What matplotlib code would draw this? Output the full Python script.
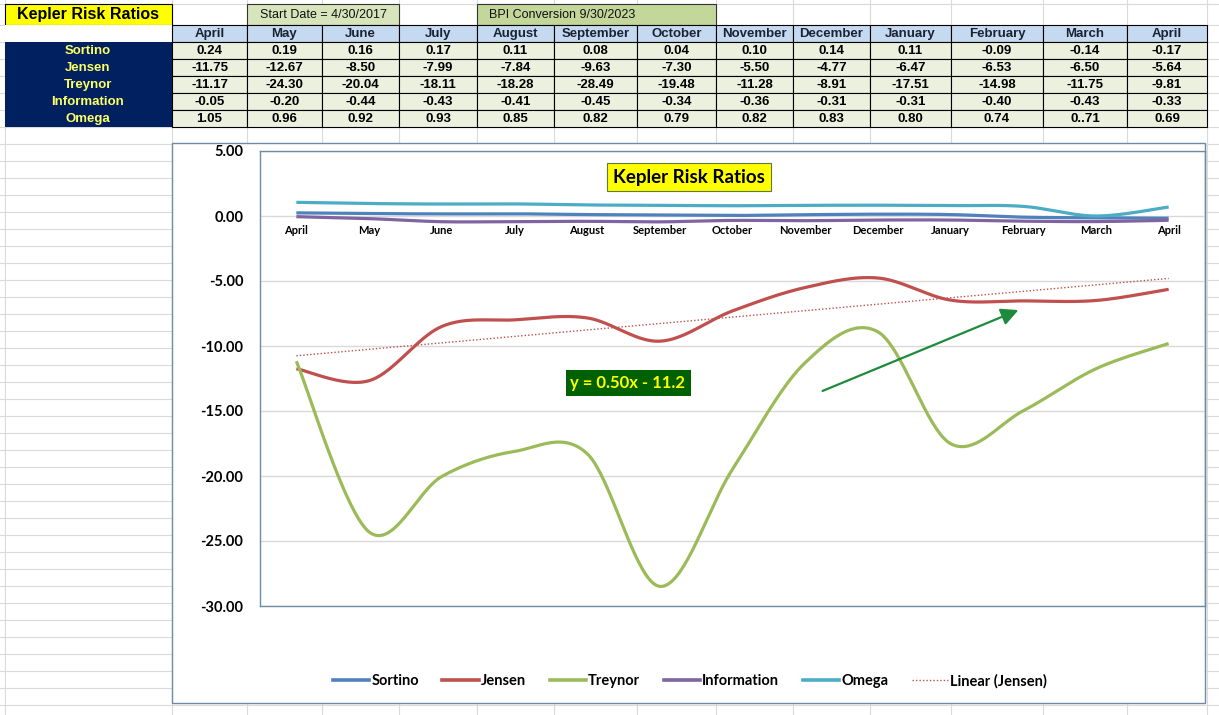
import numpy as np
import matplotlib
matplotlib.use("Agg")
import matplotlib.pyplot as plt
from matplotlib.patches import Rectangle, FancyArrowPatch
from matplotlib.lines import Line2D

# ---------------- data ----------------
months = ["April", "May", "June", "July", "August", "September", "October",
          "November", "December", "January", "February", "March", "April"]
sortino = [0.24, 0.19, 0.16, 0.17, 0.11, 0.08, 0.04, 0.10, 0.14, 0.11, -0.09, -0.14, -0.17]
jensen = [-11.75, -12.67, -8.50, -7.99, -7.84, -9.63, -7.30, -5.50, -4.77, -6.47, -6.53, -6.50, -5.64]
treynor = [-11.17, -24.30, -20.04, -18.11, -18.28, -28.49, -19.48, -11.28, -8.91, -17.51, -14.98, -11.75, -9.81]
information = [-0.05, -0.20, -0.44, -0.43, -0.41, -0.45, -0.34, -0.36, -0.31, -0.31, -0.40, -0.43, -0.33]
# Omega cells as typed in the sheet ("0..71" is text, which the chart plots as 0)
omega_cells = ["1.05", "0.96", "0.92", "0.93", "0.85", "0.82", "0.79",
               "0.82", "0.83", "0.80", "0.74", "0..71", "0.69"]
row_labels = ["Sortino", "Jensen", "Treynor", "Information", "Omega"]
yticks = [5, 0, -5, -10, -15, -20, -25, -30]


def cell_value(s):
    try:
        return float(s)
    except ValueError:
        return 0.0


omega = [cell_value(s) for s in omega_cells]

# ---------------- figure / sheet ----------------
W, H = 1219, 715
fig = plt.figure(figsize=(W / 100, H / 100), dpi=100)
bg = fig.add_axes([0, 0, 1, 1])
bg.set_xlim(0, W)
bg.set_ylim(H, 0)
bg.axis("off")

TFONT = ["Liberation Sans", "DejaVu Sans"]
CFONT = ["Lato", "DejaVu Sans"]
grid_c = "#dadada"

col_edges = [5, 172, 247, 322, 399, 477, 554, 637, 716, 793, 870, 951, 1043, 1127, 1207]
row_edges = [4] + [25 + 17 * k for k in range(42)]

for x in col_edges:
    bg.plot([x, x], [0, H], color=grid_c, lw=0.8, zorder=0)
for y in row_edges:
    bg.plot([0, W], [y, y], color=grid_c, lw=0.8, zorder=0)


def cell(x0, x1, y0, y1, fc, ec="black", lw=0.8, z=2):
    bg.add_patch(Rectangle((x0, y0), x1 - x0, y1 - y0, facecolor=fc,
                           edgecolor=ec, lw=lw, zorder=z))


# row 1
cell(5, 172, 4, 25, "#ffff00")
bg.text(88, 15, "Kepler Risk Ratios", ha="center", va="center", fontsize=11.5,
        fontweight="bold", family=TFONT, zorder=3)
cell(247, 399, 4, 25, "#d8e4bc", ec="#333333")
bg.text(323, 15, "Start Date = 4/30/2017", ha="center", va="center", fontsize=9,
        family=TFONT, zorder=3, color="#111111")
cell(477, 716, 4, 25, "#c4d79b", ec="#333333")
bg.text(489, 15, "BPI Conversion 9/30/2023", ha="left", va="center", fontsize=9,
        family=TFONT, zorder=3, color="#111111")

# header row
cell(5, 172, 25, 42, "white", ec="white", lw=0)
for i, m in enumerate(months):
    x0, x1 = col_edges[i + 1], col_edges[i + 2]
    cell(x0, x1, 25, 42, "#c5d9f1")
    bg.text((x0 + x1) / 2, 34, m, ha="center", va="center", fontsize=9.5,
            fontweight="bold", family=TFONT, color="#1b2333", zorder=3)

# label column
bg.add_patch(Rectangle((5, 42), 167, 85, facecolor="#002060", edgecolor="none", zorder=2))
series_tbl = [[f"{v:.2f}" for v in sortino],
              [f"{v:.2f}" for v in jensen],
              [f"{v:.2f}" for v in treynor],
              [f"{v:.2f}" for v in information],
              omega_cells]
for r, lab in enumerate(row_labels):
    y0 = 42 + 17 * r
    bg.text(88, y0 + 9, lab, ha="center", va="center", fontsize=9.5,
            fontweight="bold", family=TFONT, color="#ffff66", zorder=3)
    for i in range(len(months)):
        x0, x1 = col_edges[i + 1], col_edges[i + 2]
        cell(x0, x1, y0, y0 + 17, "#ebf1de")
        bg.text((x0 + x1) / 2, y0 + 9, series_tbl[r][i], ha="center", va="center",
                fontsize=9.5, fontweight="bold", family=TFONT, color="black", zorder=3)

# chart area
bg.add_patch(Rectangle((172, 143), 1205 - 172, 703 - 143, facecolor="white",
                       edgecolor="#6f8aa3", lw=1.0, zorder=4))

# ---------------- chart ----------------
L, R, T, B = 260, 1205, 151, 606
ax = fig.add_axes([L / W, 1 - B / H, (R - L) / W, (B - T) / H])
ax.set_zorder(5)
ax.set_facecolor("none")
ax.set_xlim(-0.5, len(months) - 0.5)
ax.set_ylim(-30, 5)
ax.set_yticks(yticks)
ax.set_yticklabels([f"{v:.2f}" for v in yticks], fontsize=10.5, fontweight="bold",
                   family=CFONT)
ax.tick_params(axis="y", length=0, pad=12)
ax.set_xticks([])
for s in ax.spines.values():
    s.set_color("#6f8aa3")
    s.set_linewidth(1.0)
for v in yticks:
    ax.axhline(v, color="#d9d9d9", lw=1.0, zorder=0)


def smooth(yv, n=40):
    pts = np.column_stack([np.arange(len(yv), dtype=float), np.asarray(yv, float)])
    P = np.vstack([pts[0], pts, pts[-1]])
    out = []
    t = np.linspace(0, 1, n)[:, None]
    for i in range(len(pts) - 1):
        p0, p1, p2, p3 = P[i], P[i + 1], P[i + 2], P[i + 3]
        c1 = p1 + (p2 - p0) / 6
        c2 = p2 - (p3 - p1) / 6
        seg = (1 - t) ** 3 * p1 + 3 * (1 - t) ** 2 * t * c1 + 3 * (1 - t) * t ** 2 * c2 + t ** 3 * p2
        out.append(seg if i == 0 else seg[1:])
    return np.vstack(out)


colors = {"Sortino": "#4f81bd", "Jensen": "#c0504d", "Treynor": "#9bbb59",
          "Information": "#8064a2", "Omega": "#4bacc6"}
data = {"Sortino": sortino, "Jensen": jensen, "Treynor": treynor,
        "Information": information, "Omega": omega}
handles = []
for name in row_labels:
    c = smooth(data[name])
    ax.plot(c[:, 0], c[:, 1], color=colors[name], lw=2.3, solid_capstyle="butt", zorder=3)
    handles.append(Line2D([], [], color=colors[name], lw=2.6, label=name))

# linear trendline of Jensen (Excel x = 1..n)
xs = np.arange(1, len(jensen) + 1)
slope, icpt = np.polyfit(xs, jensen, 1)
ax.plot(xs - 1, slope * xs + icpt, color="#c0504d", lw=1.0, ls=(0, (1, 1.5)), zorder=2)
handles.append(Line2D([], [], color="#c0504d", lw=1.0, ls=(0, (1, 1.5)), label="Linear (Jensen)"))

# category labels along the zero line
for i, m in enumerate(months):
    ax.annotate(m, (i, 0), xytext=(0, -15), textcoords="offset pixels", ha="center",
                va="center", fontsize=8, fontweight="bold", family=CFONT, zorder=4)

# chart title box
fig.text(689 / W, 1 - 177 / H, "Kepler Risk Ratios", ha="center", va="center",
         fontsize=13.5, fontweight="bold", family=CFONT, zorder=10,
         bbox=dict(boxstyle="square,pad=0.3", facecolor="#ffff00", edgecolor="#5f7a3a", lw=0.8))

# trendline equation
fig.text(628 / W, 1 - 383 / H, f"y = {slope:.2f}x - {abs(icpt):.1f}", ha="center",
         va="center", fontsize=12, fontweight="bold", family=CFONT, color="#ffff00",
         zorder=10, bbox=dict(boxstyle="square,pad=0.3", facecolor="#006100", edgecolor="none"))

# green arrow
arr = FancyArrowPatch((820 / W, 1 - 392 / H), (1021 / W, 1 - 309 / H),
                      transform=fig.transFigure, arrowstyle="-|>,head_length=9,head_width=4.5",
                      mutation_scale=1.15, color="#1e8a3c", lw=1.6, zorder=10)
fig.add_artist(arr)

# legend
fig.legend(handles=handles, loc="center", bbox_to_anchor=(690 / W, 1 - 681 / H),
           ncol=6, frameon=False, handlelength=2.5, handletextpad=0.15, columnspacing=1.6,
           prop=dict(family=CFONT, weight="bold", size=10.5))

fig.savefig("out.png", dpi=100)
